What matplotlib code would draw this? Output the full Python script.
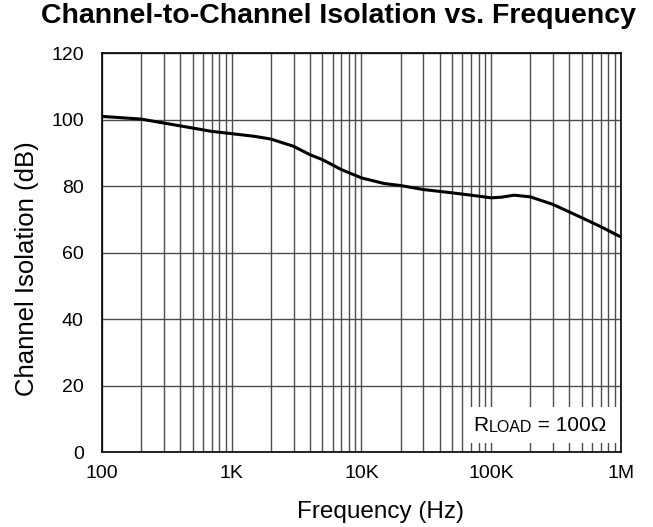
import numpy as np
import matplotlib
matplotlib.use('Agg')
import matplotlib.pyplot as plt
from matplotlib.ticker import FixedLocator, NullFormatter

plt.rcParams['font.family'] = ['Liberation Sans', 'DejaVu Sans']

# curve
freq = [100, 200, 300, 500, 700, 1e3, 1.5e3, 2e3, 3e3, 4e3, 5e3, 7e3, 1e4,
        1.5e4, 2e4, 3e4, 5e4, 7e4, 1e5, 1.2e5, 1.5e5, 2e5, 3e5, 5e5, 7e5, 1e6]
isol = [101, 100.2, 99, 97.5, 96.5, 95.8, 95, 94.2, 92, 89.5, 88, 85, 82.5,
        80.8, 80.2, 79, 78, 77.3, 76.5, 76.7, 77.3, 76.8, 74.5, 70.5, 67.8, 64.7]
xticks = [100, 1e3, 1e4, 1e5, 1e6]
xlabels = ['100', '1K', '10K', '100K', '1M']
yticks = [0, 20, 40, 60, 80, 100, 120]

fig = plt.figure(figsize=(6.53, 5.27), dpi=100)
ax = fig.add_axes([0.156, 0.142, 0.795, 0.757])
ax.plot(freq, isol, color='k', lw=2.2, zorder=5)
ax.set_xscale('log')
ax.set_xlim(100, 1e6)
ax.set_ylim(0, 120)
ax.set_xticks(xticks)
ax.set_xticklabels(xlabels)
minors = [m * 10**e for e in range(2, 6) for m in range(2, 10)]
ax.xaxis.set_minor_locator(FixedLocator(minors))
ax.xaxis.set_minor_formatter(NullFormatter())
ax.set_yticks(yticks)
ax.grid(True, which='both', color='#4d4d4d', lw=1)
ax.tick_params(which='both', length=0, labelsize=14)
ax.tick_params(axis='y', pad=13)
ax.tick_params(axis='x', pad=9)
for s in ax.spines.values():
    s.set_color('k')
    s.set_linewidth(1.2)
    s.set_zorder(6)

fig.text(0.582, 0.017, 'Frequency (Hz)', fontsize=17.5, ha='center', va='baseline')
fig.text(0.041, 0.491, 'Channel Isolation (dB)', fontsize=18.5, rotation=90,
         ha='center', va='center')
fig.suptitle('Channel-to-Channel Isolation vs. Frequency', fontsize=20.5,
             fontweight='bold', x=0.518, y=0.995)

# load note in the lower right corner
box = plt.Rectangle((0.709, 0.022), 0.287, 0.09, transform=ax.transAxes,
                    fc='white', ec='none', zorder=3)
ax.add_patch(box)
t1 = ax.text(0.716, 0.067, 'R', transform=ax.transAxes, fontsize=15,
             va='center', zorder=4)
t2 = ax.annotate('LOAD', xy=(1, 0), xycoords=t1, xytext=(0.3, 0),
                 textcoords='offset points', fontsize=11.5, va='bottom', zorder=4)
ax.annotate(' = 100\u03a9', xy=(1, 0), xycoords=t2, xytext=(0, 0),
            textcoords='offset points', fontsize=15, va='bottom', zorder=4)

fig.savefig('out.png', dpi=100)
